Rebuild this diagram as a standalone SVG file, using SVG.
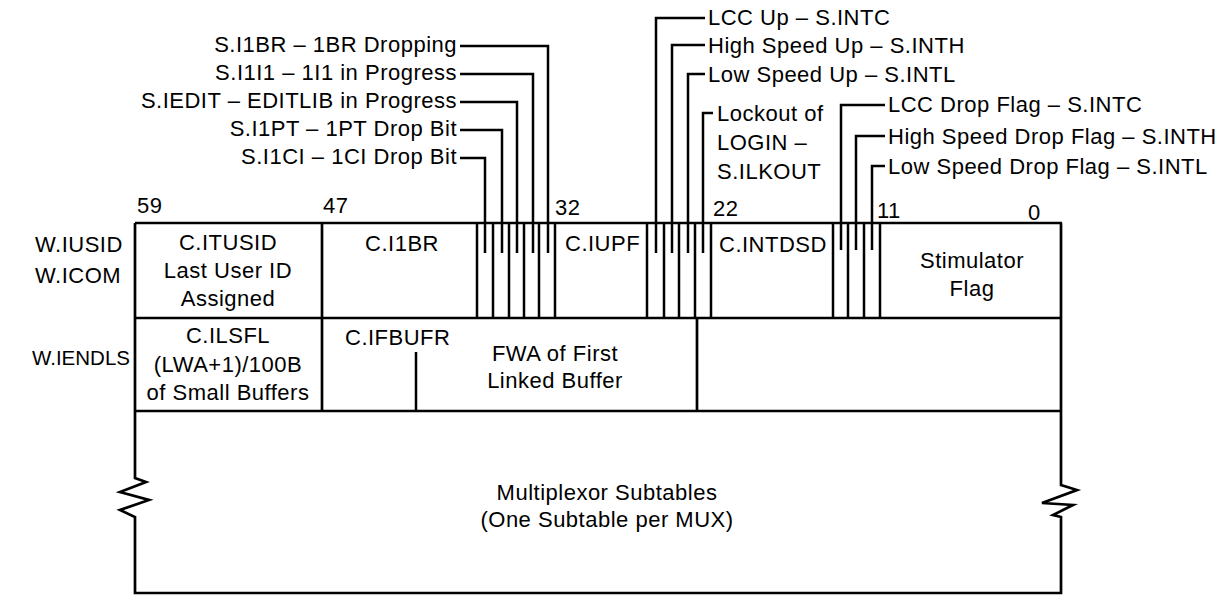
<svg xmlns="http://www.w3.org/2000/svg" width="1227" height="601" viewBox="0 0 1227 601">
<style>
text{font-family:"Liberation Sans",Arial,sans-serif;font-size:22px;fill:#000;letter-spacing:0.5px}
.e{text-anchor:end}
.m{text-anchor:middle}
.ln{fill:none;stroke:#000;stroke-width:2.7;stroke-linejoin:miter}
.tk{fill:none;stroke:#000;stroke-width:2.5}
</style>
<rect width="1227" height="601" fill="#fff"/>

<g id="frame">
<path class="ln" d="M135,223 H1062 M135,223 V478 L146,482 L120,492 L149,500 L120,510 L135,517 V593 H1061 V517 L1053,515 L1073,505 L1042,503 L1077,490 L1061,485 V223"/>
<path class="ln" d="M135,318 H1062 M135,411 H1062"/>
</g>

<g id="bit-numbers">
<text x="137" y="213">59</text>
<text x="323" y="213">47</text>
<text x="555" y="215">32</text>
<text x="713" y="216">22</text>
<text x="877" y="218">11</text>
<text x="1028" y="220">0</text>
</g>

<g id="row-labels">
<text x="35" y="252">W.IUSID</text>
<text x="35" y="283">W.ICOM</text>
<text x="32" y="365" style="font-size:20.5px;letter-spacing:0">W.IENDLS</text>
</g>

<g id="cell-ctusid">
<path class="ln" d="M322,223 V318"/>
<text class="m" x="228" y="250">C.ITUSID</text>
<text class="m" x="228" y="278">Last User ID</text>
<text class="m" x="228" y="306">Assigned</text>
</g>

<g id="cell-ci1br">
<text class="m" x="402" y="251">C.I1BR</text>
</g>

<g id="bits-47-33">
<path class="tk" d="M477,223 V318 M493,223 V318 M509,223 V318 M524,223 V318 M539,223 V318 M555,223 V318"/>
</g>

<g id="cell-ciupf">
<text x="565" y="251">C.IUPF</text>
</g>

<g id="bits-26-23">
<path class="tk" d="M647,223 V318 M664,223 V318 M679,223 V318 M695,223 V318 M711,223 V318"/>
</g>

<g id="cell-cintdsd">
<text x="719" y="252">C.INTDSD</text>
</g>

<g id="bits-14-12">
<path class="tk" d="M833,223 V318 M848,223 V318 M864,223 V318 M880,223 V318"/>
</g>

<g id="cell-stimulator">
<text class="m" x="972" y="268">Stimulator</text>
<text class="m" x="972" y="296">Flag</text>
</g>

<g id="cell-cilsfl">
<text class="m" x="228" y="343">C.ILSFL</text>
<text class="m" x="228" y="372">(LWA+1)/100B</text>
<text class="m" x="228" y="400">of Small Buffers</text>
</g>

<g id="cell-cifbufr">
<path class="ln" d="M322,318 V411 M697,318 V411"/>
<path class="tk" d="M416,352 V411"/>
<text x="345" y="345">C.IFBUFR</text>
<text class="m" x="555" y="361">FWA of First</text>
<text class="m" x="555" y="388">Linked Buffer</text>
</g>

<g id="cell-mux">
<text class="m" x="607" y="500">Multiplexor Subtables</text>
<text class="m" x="607" y="527">(One Subtable per MUX)</text>
</g>

<g id="leader-labels">
<text class="e" x="457" y="52">S.I1BR – 1BR Dropping</text>
<text class="e" x="457" y="80">S.I1I1 – 1I1 in Progress</text>
<text class="e" x="457" y="108">S.IEDIT – EDITLIB in Progress</text>
<text class="e" x="457" y="136">S.I1PT – 1PT Drop Bit</text>
<text class="e" x="457" y="164">S.I1CI – 1CI Drop  Bit</text>
<text x="708" y="25">LCC Up – S.INTC</text>
<text x="708" y="53">High Speed Up – S.INTH</text>
<text x="708" y="82">Low Speed Up – S.INTL</text>
<text x="717" y="121">Lockout of</text>
<text x="717" y="150">LOGIN –</text>
<text x="717" y="179">S.ILKOUT</text>
<text x="888" y="112">LCC Drop Flag – S.INTC</text>
<text x="888" y="144">High Speed Drop Flag – S.INTH</text>
<text x="888" y="174">Low Speed Drop Flag – S.INTL</text>
</g>

<g id="connectors">
<path class="tk" d="M460,46 H548 V253"/>
<path class="tk" d="M460,74 H533 V253"/>
<path class="tk" d="M460,102 H517 V253"/>
<path class="tk" d="M460,130 H502 V253"/>
<path class="tk" d="M460,158 H485 V253"/>
<path class="tk" d="M705,18 H656 V253"/>
<path class="tk" d="M705,45 H672 V253"/>
<path class="tk" d="M705,74 H688 V253"/>
<path class="tk" d="M713,113 H703 V253"/>
<path class="tk" d="M885,105 H841 V250"/>
<path class="tk" d="M885,136 H856 V250"/>
<path class="tk" d="M885,166 H872 V250"/>
</g>
</svg>
